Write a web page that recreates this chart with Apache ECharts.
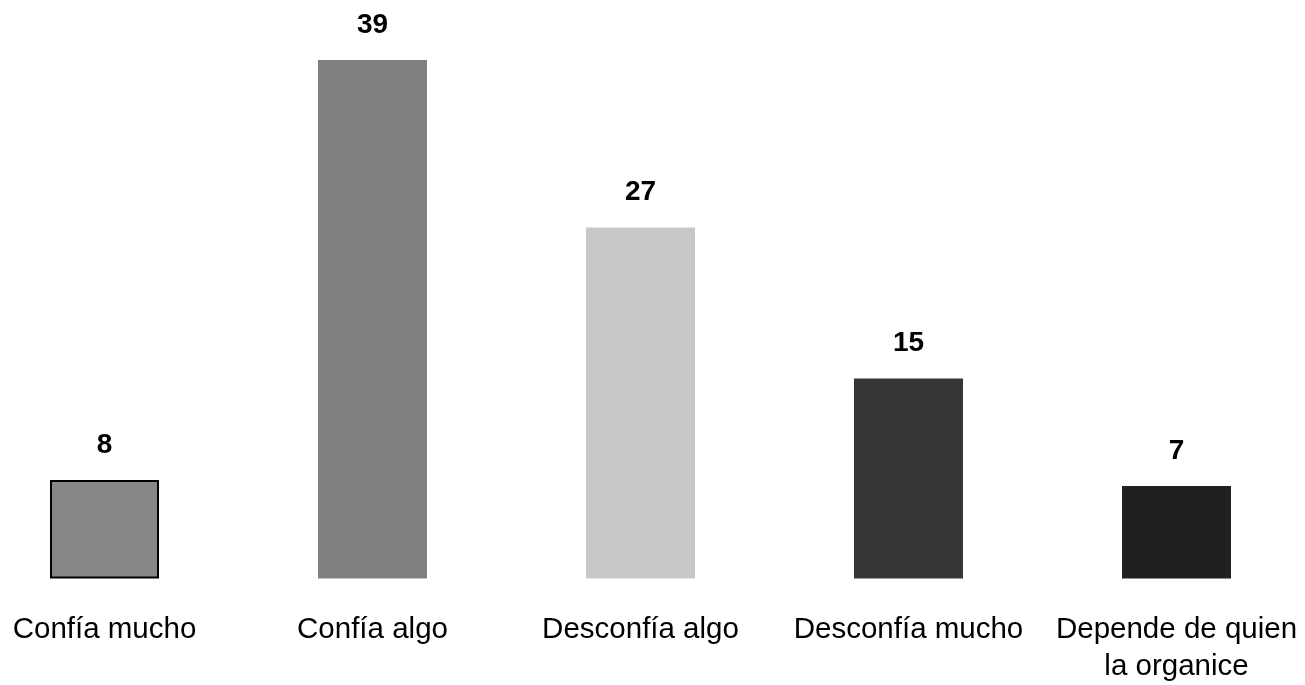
<!DOCTYPE html>
<html>
<head>
<meta charset="utf-8">
<script src="https://cdn.jsdelivr.net/npm/echarts@6/dist/echarts.min.js"></script>
<style>html,body{margin:0;padding:0;background:#fff}#c{width:1305px;height:685px}</style>
</head>
<body>
<div id="c"></div>
<script>
const categories = ['Confía mucho', 'Confía algo', 'Desconfía algo', 'Desconfía mucho', 'Depende de quien\nla organice'];
const values = [7.4, 39, 26.4, 15.05, 6.95];
const valueLabels = ['8', '39', '27', '15', '7'];
const barColors = ['#878787', '#808080', '#c8c8c8', '#363636', '#202020'];

const chart = echarts.init(document.getElementById('c'), null, {renderer: 'canvas'});
chart.setOption({
  animation: false,
  backgroundColor: '#ffffff',
  grid: {left: -29.5, right: -5.5, top: 60, bottom: 106.5, outerBoundsMode: 'none', containLabel: false},
  xAxis: {
    type: 'category',
    data: categories,
    axisLine: {show: false},
    axisTick: {show: false},
    axisLabel: {
      interval: 0,
      margin: 33,
      color: '#000',
      fontFamily: 'Liberation Sans, Arial, sans-serif',
      fontSize: 29.5,
      lineHeight: 37,
      verticalAlign: 'top'
    }
  },
  yAxis: {
    type: 'value',
    min: 0,
    max: 39,
    show: false,
    splitLine: {show: false}
  },
  series: [{
    type: 'bar',
    barWidth: 109,
    data: values.map((v, i) => ({
      value: v,
      itemStyle: i === 0 ? {color: barColors[i], borderColor: '#000', borderWidth: 2} : {color: barColors[i]}
    })),
    label: {
      show: true,
      position: 'top',
      distance: 21,
      color: '#000',
      fontWeight: 'bold',
      fontFamily: 'Liberation Sans, Arial, sans-serif',
      fontSize: 28,
      formatter: p => valueLabels[p.dataIndex]
    }
  }]
});
</script>
</body>
</html>
